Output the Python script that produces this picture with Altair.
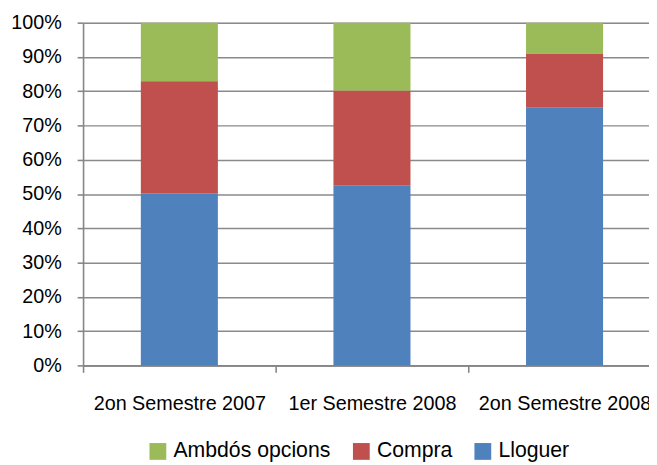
import altair as alt
import pandas as pd

categories = ["2on Semestre 2007", "1er Semestre 2008", "2on Semestre 2008"]
series = ["Ambdós opcions", "Compra", "Lloguer"]
lloguer = [50.2, 52.4, 75.2]
compra = [32.7, 27.7, 15.7]
ambdos = [17.1, 19.9, 9.1]
colors = ["#9BBB59", "#C0504D", "#4F81BD"]
stack_order = {"Lloguer": 0, "Compra": 1, "Ambdós opcions": 2}

rows = []
for i, c in enumerate(categories):
    for s, vals in zip(series, [ambdos, compra, lloguer]):
        rows.append({"cat": c, "serie": s, "value": vals[i], "ord": stack_order[s]})
df = pd.DataFrame(rows)

FONT = "Liberation Sans"

chart = alt.Chart(df).mark_bar(width=alt.RelativeBandSize(0.4)).encode(
    x=alt.X("cat:N", sort=categories, title=None,
            scale=alt.Scale(range=[0, 585], paddingInner=0, paddingOuter=0),
            axis=alt.Axis(labelAngle=0, labelFontSize=20, labelFont=FONT, labelColor="#000000",
                          domainColor="#868686", domainWidth=1.6, tickColor="#868686",
                          tickWidth=1.6, tickSize=7, tickBand="extent", labelPadding=22,
                          labelLimit=400, grid=False)),
    y=alt.Y("value:Q", stack="zero", title=None,
            scale=alt.Scale(domain=[0, 100], nice=False),
            axis=alt.Axis(values=list(range(0, 101, 10)), labelExpr="datum.value + '%'",
                          labelFontSize=20, labelFont=FONT, labelColor="#000000",
                          domainColor="#868686", domainWidth=1.6, tickColor="#868686",
                          tickWidth=1.6, tickSize=6, labelPadding=16,
                          grid=True, gridColor="#8a8a8a", gridWidth=1.5)),
    color=alt.Color("serie:N", scale=alt.Scale(domain=series, range=colors),
                    legend=alt.Legend(title=None, orient="none", direction="horizontal",
                                      legendX=65, legendY=423, symbolType="square",
                                      symbolSize=289, symbolStrokeWidth=0, symbolOpacity=1,
                                      labelFontSize=21.5, labelFont=FONT, labelColor="#000000",
                                      labelLimit=400, labelOffset=5, columnPadding=20,
                                      padding=0)),
    order=alt.Order("ord:Q", sort="ascending"),
).properties(
    width=573, height=347,
    autosize=alt.AutoSizeParams(type="none"),
    padding={"left": 76, "top": 12, "right": 0, "bottom": 98},
).configure_view(stroke=None).configure(background="#ffffff")

chart.save("out.html", embed_options={"renderer": "svg", "actions": False})
